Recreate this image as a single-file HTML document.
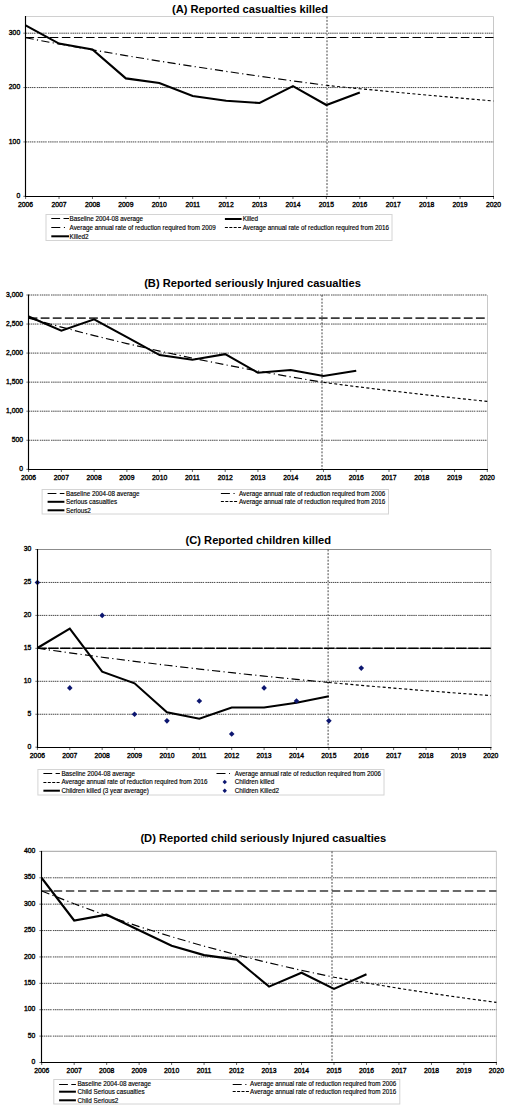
<!DOCTYPE html>
<html><head><meta charset="utf-8"><style>
html,body{margin:0;padding:0;background:#fff;}
body{width:509px;height:1110px;overflow:hidden;}
svg{display:block;font-family:"Liberation Sans", sans-serif;}
</style></head><body>
<svg width="509" height="1110" viewBox="0 0 509 1110">
<text x="250" y="13.4" font-size="11.15" font-weight="bold" text-anchor="middle" fill="#000">(A) Reported casualties killed</text>
<line x1="493.5" y1="16.5" x2="493.5" y2="196.3" stroke="#c8c8c8" stroke-width="1" stroke-linecap="butt"/>
<line x1="25.6" y1="141.93" x2="493.5" y2="141.93" stroke="#4a4a4a" stroke-width="1.0" stroke-dasharray="1.5,0.6,1.5,0.6,1.5,0.6,1.5,0.6,1.5,1.3" stroke-linecap="butt"/>
<line x1="25.6" y1="87.56" x2="493.5" y2="87.56" stroke="#4a4a4a" stroke-width="1.0" stroke-dasharray="1.5,0.6,1.5,0.6,1.5,0.6,1.5,0.6,1.5,1.3" stroke-linecap="butt"/>
<line x1="25.6" y1="33.19" x2="493.5" y2="33.19" stroke="#4a4a4a" stroke-width="1.0" stroke-dasharray="1.5,0.6,1.5,0.6,1.5,0.6,1.5,0.6,1.5,1.3" stroke-linecap="butt"/>
<line x1="25.6" y1="16.5" x2="493.5" y2="16.5" stroke="#d0d0d0" stroke-width="1" stroke-linecap="butt"/>
<text x="20.2" y="197.9" font-size="6.8" font-weight="normal" text-anchor="end" fill="#000" stroke="#000" stroke-width="0.35">0</text>
<line x1="23.3" y1="196.3" x2="25.5" y2="196.3" stroke="#777" stroke-width="1" stroke-linecap="butt"/>
<text x="20.2" y="143.53" font-size="6.8" font-weight="normal" text-anchor="end" fill="#000" stroke="#000" stroke-width="0.35">100</text>
<line x1="23.3" y1="141.93" x2="25.5" y2="141.93" stroke="#777" stroke-width="1" stroke-linecap="butt"/>
<text x="20.2" y="89.16" font-size="6.8" font-weight="normal" text-anchor="end" fill="#000" stroke="#000" stroke-width="0.35">200</text>
<line x1="23.3" y1="87.56" x2="25.5" y2="87.56" stroke="#777" stroke-width="1" stroke-linecap="butt"/>
<text x="20.2" y="34.79" font-size="6.8" font-weight="normal" text-anchor="end" fill="#000" stroke="#000" stroke-width="0.35">300</text>
<line x1="23.3" y1="33.19" x2="25.5" y2="33.19" stroke="#777" stroke-width="1" stroke-linecap="butt"/>
<text x="25.6" y="206.9" font-size="6.8" font-weight="normal" text-anchor="middle" fill="#000" stroke="#000" stroke-width="0.35">2006</text>
<line x1="25.6" y1="196.5" x2="25.6" y2="199" stroke="#666" stroke-width="1" stroke-linecap="butt"/>
<text x="59.02" y="206.9" font-size="6.8" font-weight="normal" text-anchor="middle" fill="#000" stroke="#000" stroke-width="0.35">2007</text>
<line x1="59.02" y1="196.5" x2="59.02" y2="199" stroke="#666" stroke-width="1" stroke-linecap="butt"/>
<text x="92.44" y="206.9" font-size="6.8" font-weight="normal" text-anchor="middle" fill="#000" stroke="#000" stroke-width="0.35">2008</text>
<line x1="92.44" y1="196.5" x2="92.44" y2="199" stroke="#666" stroke-width="1" stroke-linecap="butt"/>
<text x="125.86" y="206.9" font-size="6.8" font-weight="normal" text-anchor="middle" fill="#000" stroke="#000" stroke-width="0.35">2009</text>
<line x1="125.86" y1="196.5" x2="125.86" y2="199" stroke="#666" stroke-width="1" stroke-linecap="butt"/>
<text x="159.29" y="206.9" font-size="6.8" font-weight="normal" text-anchor="middle" fill="#000" stroke="#000" stroke-width="0.35">2010</text>
<line x1="159.29" y1="196.5" x2="159.29" y2="199" stroke="#666" stroke-width="1" stroke-linecap="butt"/>
<text x="192.71" y="206.9" font-size="6.8" font-weight="normal" text-anchor="middle" fill="#000" stroke="#000" stroke-width="0.35">2011</text>
<line x1="192.71" y1="196.5" x2="192.71" y2="199" stroke="#666" stroke-width="1" stroke-linecap="butt"/>
<text x="226.13" y="206.9" font-size="6.8" font-weight="normal" text-anchor="middle" fill="#000" stroke="#000" stroke-width="0.35">2012</text>
<line x1="226.13" y1="196.5" x2="226.13" y2="199" stroke="#666" stroke-width="1" stroke-linecap="butt"/>
<text x="259.55" y="206.9" font-size="6.8" font-weight="normal" text-anchor="middle" fill="#000" stroke="#000" stroke-width="0.35">2013</text>
<line x1="259.55" y1="196.5" x2="259.55" y2="199" stroke="#666" stroke-width="1" stroke-linecap="butt"/>
<text x="292.97" y="206.9" font-size="6.8" font-weight="normal" text-anchor="middle" fill="#000" stroke="#000" stroke-width="0.35">2014</text>
<line x1="292.97" y1="196.5" x2="292.97" y2="199" stroke="#666" stroke-width="1" stroke-linecap="butt"/>
<text x="326.39" y="206.9" font-size="6.8" font-weight="normal" text-anchor="middle" fill="#000" stroke="#000" stroke-width="0.35">2015</text>
<line x1="326.39" y1="196.5" x2="326.39" y2="199" stroke="#666" stroke-width="1" stroke-linecap="butt"/>
<text x="359.81" y="206.9" font-size="6.8" font-weight="normal" text-anchor="middle" fill="#000" stroke="#000" stroke-width="0.35">2016</text>
<line x1="359.81" y1="196.5" x2="359.81" y2="199" stroke="#666" stroke-width="1" stroke-linecap="butt"/>
<text x="393.24" y="206.9" font-size="6.8" font-weight="normal" text-anchor="middle" fill="#000" stroke="#000" stroke-width="0.35">2017</text>
<line x1="393.24" y1="196.5" x2="393.24" y2="199" stroke="#666" stroke-width="1" stroke-linecap="butt"/>
<text x="426.66" y="206.9" font-size="6.8" font-weight="normal" text-anchor="middle" fill="#000" stroke="#000" stroke-width="0.35">2018</text>
<line x1="426.66" y1="196.5" x2="426.66" y2="199" stroke="#666" stroke-width="1" stroke-linecap="butt"/>
<text x="460.08" y="206.9" font-size="6.8" font-weight="normal" text-anchor="middle" fill="#000" stroke="#000" stroke-width="0.35">2019</text>
<line x1="460.08" y1="196.5" x2="460.08" y2="199" stroke="#666" stroke-width="1" stroke-linecap="butt"/>
<text x="493.5" y="206.9" font-size="6.8" font-weight="normal" text-anchor="middle" fill="#000" stroke="#000" stroke-width="0.35">2020</text>
<line x1="493.5" y1="196.5" x2="493.5" y2="199" stroke="#666" stroke-width="1" stroke-linecap="butt"/>
<line x1="327" y1="16.5" x2="327" y2="196.3" stroke="#3a3a3a" stroke-width="0.95" stroke-dasharray="1.9,1.5" stroke-linecap="butt"/>
<line x1="25.6" y1="37.5" x2="493.5" y2="37.5" stroke="#000" stroke-width="1.1" stroke-dasharray="8.5,3.59" stroke-linecap="butt" stroke-dashoffset="0"/>
<polyline points="25.6,37.8 59.02,43.97 92.44,49.89 125.86,55.59 159.29,61.06 192.71,66.32 226.13,71.38 259.55,76.24 292.97,80.91 326.39,85.4" fill="none" stroke="#000" stroke-width="1.15" stroke-dasharray="8.2,3.3,1.2,3.3" stroke-linejoin="miter" stroke-miterlimit="4"/>
<polyline points="326.39,85.4 359.81,88.71 393.24,91.93 426.66,95.04 460.08,98.07 493.5,101" fill="none" stroke="#000" stroke-width="1.15" stroke-dasharray="3,2.4" stroke-linejoin="miter" stroke-miterlimit="4"/>
<polyline points="25.6,25.3 59.02,43.6 92.44,49.5 125.86,78.4 159.29,83 192.71,96 226.13,100.7 259.55,103 292.97,86.1 326.39,105 359.81,92.6" fill="none" stroke="#000" stroke-width="2.1" stroke-linejoin="miter" stroke-miterlimit="4"/>
<line x1="25.5" y1="16" x2="25.5" y2="197.1" stroke="#000" stroke-width="1.15" stroke-linecap="butt"/>
<line x1="24.9" y1="196.5" x2="494" y2="196.5" stroke="#000" stroke-width="1.15" stroke-linecap="butt"/>
<rect x="46" y="214.5" width="346" height="26" fill="none" stroke="#d4d4d4" stroke-width="1"/>
<line x1="51.3" y1="218.5" x2="69" y2="218.5" stroke="#000" stroke-width="1.15" stroke-dasharray="8.8,3.4,30" stroke-linecap="butt"/>
<text x="69.6" y="221.2" font-size="6.3" font-weight="normal" text-anchor="start" fill="#000" stroke="#000" stroke-width="0.14">Baseline 2004-08 average</text>
<line x1="224.9" y1="219" x2="241.6" y2="219" stroke="#000" stroke-width="2.0" stroke-linecap="butt"/>
<text x="242.7" y="221.2" font-size="6.3" font-weight="normal" text-anchor="start" fill="#000" stroke="#000" stroke-width="0.14">Killed</text>
<line x1="51.3" y1="227.5" x2="69" y2="227.5" stroke="#000" stroke-width="1.15" stroke-dasharray="9,3.6,1.1,30" stroke-linecap="butt"/>
<text x="69.6" y="230" font-size="6.3" font-weight="normal" text-anchor="start" fill="#000" stroke="#000" stroke-width="0.14">Average annual rate of reduction required from 2009</text>
<line x1="224.9" y1="227.5" x2="241.6" y2="227.5" stroke="#000" stroke-width="1.15" stroke-dasharray="3,1.4" stroke-linecap="butt"/>
<text x="242.7" y="230" font-size="6.3" font-weight="normal" text-anchor="start" fill="#000" stroke="#000" stroke-width="0.14">Average annual rate of reduction required from 2016</text>
<line x1="51.3" y1="236.3" x2="69" y2="236.3" stroke="#000" stroke-width="2.0" stroke-linecap="butt"/>
<text x="69.6" y="238.5" font-size="6.3" font-weight="normal" text-anchor="start" fill="#000" stroke="#000" stroke-width="0.14">Killed2</text>
<text x="252.5" y="287.1" font-size="11.15" font-weight="bold" text-anchor="middle" fill="#000">(B) Reported seriously Injured casualties</text>
<line x1="487.5" y1="295" x2="487.5" y2="469.3" stroke="#c8c8c8" stroke-width="1" stroke-linecap="butt"/>
<line x1="28.6" y1="440.25" x2="487.5" y2="440.25" stroke="#4a4a4a" stroke-width="1.0" stroke-dasharray="1.5,0.6,1.5,0.6,1.5,0.6,1.5,0.6,1.5,1.3" stroke-linecap="butt"/>
<line x1="28.6" y1="411.2" x2="487.5" y2="411.2" stroke="#4a4a4a" stroke-width="1.0" stroke-dasharray="1.5,0.6,1.5,0.6,1.5,0.6,1.5,0.6,1.5,1.3" stroke-linecap="butt"/>
<line x1="28.6" y1="382.15" x2="487.5" y2="382.15" stroke="#4a4a4a" stroke-width="1.0" stroke-dasharray="1.5,0.6,1.5,0.6,1.5,0.6,1.5,0.6,1.5,1.3" stroke-linecap="butt"/>
<line x1="28.6" y1="353.1" x2="487.5" y2="353.1" stroke="#4a4a4a" stroke-width="1.0" stroke-dasharray="1.5,0.6,1.5,0.6,1.5,0.6,1.5,0.6,1.5,1.3" stroke-linecap="butt"/>
<line x1="28.6" y1="324.05" x2="487.5" y2="324.05" stroke="#4a4a4a" stroke-width="1.0" stroke-dasharray="1.5,0.6,1.5,0.6,1.5,0.6,1.5,0.6,1.5,1.3" stroke-linecap="butt"/>
<line x1="28.6" y1="295" x2="487.5" y2="295" stroke="#4a4a4a" stroke-width="1.0" stroke-dasharray="1.5,0.6,1.5,0.6,1.5,0.6,1.5,0.6,1.5,1.3" stroke-linecap="butt"/>
<text x="23" y="470.9" font-size="6.8" font-weight="normal" text-anchor="end" fill="#000" stroke="#000" stroke-width="0.35">0</text>
<line x1="26.3" y1="469.3" x2="28.5" y2="469.3" stroke="#777" stroke-width="1" stroke-linecap="butt"/>
<text x="23" y="441.85" font-size="6.8" font-weight="normal" text-anchor="end" fill="#000" stroke="#000" stroke-width="0.35">500</text>
<line x1="26.3" y1="440.25" x2="28.5" y2="440.25" stroke="#777" stroke-width="1" stroke-linecap="butt"/>
<text x="23" y="412.8" font-size="6.8" font-weight="normal" text-anchor="end" fill="#000" stroke="#000" stroke-width="0.35">1,000</text>
<line x1="26.3" y1="411.2" x2="28.5" y2="411.2" stroke="#777" stroke-width="1" stroke-linecap="butt"/>
<text x="23" y="383.75" font-size="6.8" font-weight="normal" text-anchor="end" fill="#000" stroke="#000" stroke-width="0.35">1,500</text>
<line x1="26.3" y1="382.15" x2="28.5" y2="382.15" stroke="#777" stroke-width="1" stroke-linecap="butt"/>
<text x="23" y="354.7" font-size="6.8" font-weight="normal" text-anchor="end" fill="#000" stroke="#000" stroke-width="0.35">2,000</text>
<line x1="26.3" y1="353.1" x2="28.5" y2="353.1" stroke="#777" stroke-width="1" stroke-linecap="butt"/>
<text x="23" y="325.65" font-size="6.8" font-weight="normal" text-anchor="end" fill="#000" stroke="#000" stroke-width="0.35">2,500</text>
<line x1="26.3" y1="324.05" x2="28.5" y2="324.05" stroke="#777" stroke-width="1" stroke-linecap="butt"/>
<text x="23" y="296.6" font-size="6.8" font-weight="normal" text-anchor="end" fill="#000" stroke="#000" stroke-width="0.35">3,000</text>
<line x1="26.3" y1="295" x2="28.5" y2="295" stroke="#777" stroke-width="1" stroke-linecap="butt"/>
<text x="28.6" y="479.8" font-size="6.8" font-weight="normal" text-anchor="middle" fill="#000" stroke="#000" stroke-width="0.35">2006</text>
<line x1="28.6" y1="469.5" x2="28.6" y2="472" stroke="#666" stroke-width="1" stroke-linecap="butt"/>
<text x="61.36" y="479.8" font-size="6.8" font-weight="normal" text-anchor="middle" fill="#000" stroke="#000" stroke-width="0.35">2007</text>
<line x1="61.36" y1="469.5" x2="61.36" y2="472" stroke="#666" stroke-width="1" stroke-linecap="butt"/>
<text x="94.13" y="479.8" font-size="6.8" font-weight="normal" text-anchor="middle" fill="#000" stroke="#000" stroke-width="0.35">2008</text>
<line x1="94.13" y1="469.5" x2="94.13" y2="472" stroke="#666" stroke-width="1" stroke-linecap="butt"/>
<text x="126.89" y="479.8" font-size="6.8" font-weight="normal" text-anchor="middle" fill="#000" stroke="#000" stroke-width="0.35">2009</text>
<line x1="126.89" y1="469.5" x2="126.89" y2="472" stroke="#666" stroke-width="1" stroke-linecap="butt"/>
<text x="159.66" y="479.8" font-size="6.8" font-weight="normal" text-anchor="middle" fill="#000" stroke="#000" stroke-width="0.35">2010</text>
<line x1="159.66" y1="469.5" x2="159.66" y2="472" stroke="#666" stroke-width="1" stroke-linecap="butt"/>
<text x="192.42" y="479.8" font-size="6.8" font-weight="normal" text-anchor="middle" fill="#000" stroke="#000" stroke-width="0.35">2011</text>
<line x1="192.42" y1="469.5" x2="192.42" y2="472" stroke="#666" stroke-width="1" stroke-linecap="butt"/>
<text x="225.19" y="479.8" font-size="6.8" font-weight="normal" text-anchor="middle" fill="#000" stroke="#000" stroke-width="0.35">2012</text>
<line x1="225.19" y1="469.5" x2="225.19" y2="472" stroke="#666" stroke-width="1" stroke-linecap="butt"/>
<text x="257.95" y="479.8" font-size="6.8" font-weight="normal" text-anchor="middle" fill="#000" stroke="#000" stroke-width="0.35">2013</text>
<line x1="257.95" y1="469.5" x2="257.95" y2="472" stroke="#666" stroke-width="1" stroke-linecap="butt"/>
<text x="290.71" y="479.8" font-size="6.8" font-weight="normal" text-anchor="middle" fill="#000" stroke="#000" stroke-width="0.35">2014</text>
<line x1="290.71" y1="469.5" x2="290.71" y2="472" stroke="#666" stroke-width="1" stroke-linecap="butt"/>
<text x="323.48" y="479.8" font-size="6.8" font-weight="normal" text-anchor="middle" fill="#000" stroke="#000" stroke-width="0.35">2015</text>
<line x1="323.48" y1="469.5" x2="323.48" y2="472" stroke="#666" stroke-width="1" stroke-linecap="butt"/>
<text x="356.24" y="479.8" font-size="6.8" font-weight="normal" text-anchor="middle" fill="#000" stroke="#000" stroke-width="0.35">2016</text>
<line x1="356.24" y1="469.5" x2="356.24" y2="472" stroke="#666" stroke-width="1" stroke-linecap="butt"/>
<text x="389.01" y="479.8" font-size="6.8" font-weight="normal" text-anchor="middle" fill="#000" stroke="#000" stroke-width="0.35">2017</text>
<line x1="389.01" y1="469.5" x2="389.01" y2="472" stroke="#666" stroke-width="1" stroke-linecap="butt"/>
<text x="421.77" y="479.8" font-size="6.8" font-weight="normal" text-anchor="middle" fill="#000" stroke="#000" stroke-width="0.35">2018</text>
<line x1="421.77" y1="469.5" x2="421.77" y2="472" stroke="#666" stroke-width="1" stroke-linecap="butt"/>
<text x="454.54" y="479.8" font-size="6.8" font-weight="normal" text-anchor="middle" fill="#000" stroke="#000" stroke-width="0.35">2019</text>
<line x1="454.54" y1="469.5" x2="454.54" y2="472" stroke="#666" stroke-width="1" stroke-linecap="butt"/>
<text x="487.3" y="479.8" font-size="6.8" font-weight="normal" text-anchor="middle" fill="#000" stroke="#000" stroke-width="0.35">2020</text>
<line x1="487.3" y1="469.5" x2="487.3" y2="472" stroke="#666" stroke-width="1" stroke-linecap="butt"/>
<line x1="322" y1="295" x2="322" y2="469.3" stroke="#3a3a3a" stroke-width="0.95" stroke-dasharray="1.9,1.5" stroke-linecap="butt"/>
<line x1="28.6" y1="318.1" x2="487.5" y2="318.1" stroke="#3a3a3a" stroke-width="1.6" stroke-dasharray="8.8,3.29" stroke-linecap="butt" stroke-dashoffset="0"/>
<polyline points="28.6,318.1 61.36,327.12 94.13,335.61 126.89,343.59 159.66,351.09 192.42,358.15 225.19,364.78 257.95,371.02 290.71,376.88 323.48,382.4" fill="none" stroke="#000" stroke-width="1.15" stroke-dasharray="8.2,3.3,1.2,3.3" stroke-linejoin="miter" stroke-miterlimit="4"/>
<polyline points="323.48,382.4 356.24,386.58 389.01,390.57 421.77,394.36 454.54,397.97 487.3,401.4" fill="none" stroke="#000" stroke-width="1.15" stroke-dasharray="3,2.4" stroke-linejoin="miter" stroke-miterlimit="4"/>
<polyline points="28.6,316.5 61.36,330.7 94.13,319.3 126.89,337.2 159.66,355.1 192.42,359.8 225.19,354.2 257.95,372.7 290.71,370 323.48,376 356.24,370.7" fill="none" stroke="#000" stroke-width="2.1" stroke-linejoin="miter" stroke-miterlimit="4"/>
<line x1="28.5" y1="294.5" x2="28.5" y2="470.1" stroke="#000" stroke-width="1.15" stroke-linecap="butt"/>
<line x1="27.9" y1="469.5" x2="488" y2="469.5" stroke="#000" stroke-width="1.15" stroke-linecap="butt"/>
<rect x="42.1" y="489.5" width="346.4" height="24.5" fill="none" stroke="#d4d4d4" stroke-width="1"/>
<line x1="47.6" y1="493.5" x2="64.4" y2="493.5" stroke="#000" stroke-width="1.15" stroke-dasharray="8.8,3.4,30" stroke-linecap="butt"/>
<text x="66" y="495.8" font-size="6.3" font-weight="normal" text-anchor="start" fill="#000" stroke="#000" stroke-width="0.14">Baseline 2004-08 average</text>
<line x1="220.9" y1="493.5" x2="237.4" y2="493.5" stroke="#000" stroke-width="1.15" stroke-dasharray="9,3.6,1.1,30" stroke-linecap="butt"/>
<text x="239" y="495.8" font-size="6.3" font-weight="normal" text-anchor="start" fill="#000" stroke="#000" stroke-width="0.14">Average annual rate of reduction required from 2006</text>
<line x1="47.6" y1="501.8" x2="64.4" y2="501.8" stroke="#000" stroke-width="2.0" stroke-linecap="butt"/>
<text x="66" y="504" font-size="6.3" font-weight="normal" text-anchor="start" fill="#000" stroke="#000" stroke-width="0.14">Serious casualties</text>
<line x1="220.9" y1="501.5" x2="237.4" y2="501.5" stroke="#000" stroke-width="1.15" stroke-dasharray="3,1.4" stroke-linecap="butt"/>
<text x="239" y="504" font-size="6.3" font-weight="normal" text-anchor="start" fill="#000" stroke="#000" stroke-width="0.14">Average annual rate of reduction required from 2016</text>
<line x1="47.6" y1="510.3" x2="64.4" y2="510.3" stroke="#000" stroke-width="2.0" stroke-linecap="butt"/>
<text x="66" y="512.5" font-size="6.3" font-weight="normal" text-anchor="start" fill="#000" stroke="#000" stroke-width="0.14">Serious2</text>
<text x="258.3" y="543.8" font-size="11.15" font-weight="bold" text-anchor="middle" fill="#000">(C) Reported children killed</text>
<line x1="491" y1="549.5" x2="491" y2="747.2" stroke="#dedede" stroke-width="1.5" stroke-linecap="butt"/>
<line x1="37.4" y1="714.25" x2="491" y2="714.25" stroke="#4a4a4a" stroke-width="1.0" stroke-dasharray="1.5,0.6,1.5,0.6,1.5,0.6,1.5,0.6,1.5,1.3" stroke-linecap="butt"/>
<line x1="37.4" y1="681.3" x2="491" y2="681.3" stroke="#4a4a4a" stroke-width="1.0" stroke-dasharray="1.5,0.6,1.5,0.6,1.5,0.6,1.5,0.6,1.5,1.3" stroke-linecap="butt"/>
<line x1="37.4" y1="648.35" x2="491" y2="648.35" stroke="#4a4a4a" stroke-width="1.0" stroke-dasharray="1.5,0.6,1.5,0.6,1.5,0.6,1.5,0.6,1.5,1.3" stroke-linecap="butt"/>
<line x1="37.4" y1="615.4" x2="491" y2="615.4" stroke="#4a4a4a" stroke-width="1.0" stroke-dasharray="1.5,0.6,1.5,0.6,1.5,0.6,1.5,0.6,1.5,1.3" stroke-linecap="butt"/>
<line x1="37.4" y1="582.45" x2="491" y2="582.45" stroke="#4a4a4a" stroke-width="1.0" stroke-dasharray="1.5,0.6,1.5,0.6,1.5,0.6,1.5,0.6,1.5,1.3" stroke-linecap="butt"/>
<line x1="37.4" y1="549.5" x2="491" y2="549.5" stroke="#8c8c8c" stroke-width="1" stroke-linecap="butt"/>
<text x="31.4" y="748.8" font-size="6.8" font-weight="normal" text-anchor="end" fill="#000" stroke="#000" stroke-width="0.35">0</text>
<line x1="35.3" y1="747.2" x2="37.5" y2="747.2" stroke="#777" stroke-width="1" stroke-linecap="butt"/>
<text x="31.4" y="715.85" font-size="6.8" font-weight="normal" text-anchor="end" fill="#000" stroke="#000" stroke-width="0.35">5</text>
<line x1="35.3" y1="714.25" x2="37.5" y2="714.25" stroke="#777" stroke-width="1" stroke-linecap="butt"/>
<text x="31.4" y="682.9" font-size="6.8" font-weight="normal" text-anchor="end" fill="#000" stroke="#000" stroke-width="0.35">10</text>
<line x1="35.3" y1="681.3" x2="37.5" y2="681.3" stroke="#777" stroke-width="1" stroke-linecap="butt"/>
<text x="31.4" y="649.95" font-size="6.8" font-weight="normal" text-anchor="end" fill="#000" stroke="#000" stroke-width="0.35">15</text>
<line x1="35.3" y1="648.35" x2="37.5" y2="648.35" stroke="#777" stroke-width="1" stroke-linecap="butt"/>
<text x="31.4" y="617" font-size="6.8" font-weight="normal" text-anchor="end" fill="#000" stroke="#000" stroke-width="0.35">20</text>
<line x1="35.3" y1="615.4" x2="37.5" y2="615.4" stroke="#777" stroke-width="1" stroke-linecap="butt"/>
<text x="31.4" y="584.05" font-size="6.8" font-weight="normal" text-anchor="end" fill="#000" stroke="#000" stroke-width="0.35">25</text>
<line x1="35.3" y1="582.45" x2="37.5" y2="582.45" stroke="#777" stroke-width="1" stroke-linecap="butt"/>
<text x="31.4" y="551.1" font-size="6.8" font-weight="normal" text-anchor="end" fill="#000" stroke="#000" stroke-width="0.35">30</text>
<line x1="35.3" y1="549.5" x2="37.5" y2="549.5" stroke="#777" stroke-width="1" stroke-linecap="butt"/>
<text x="37.4" y="757.8" font-size="6.8" font-weight="normal" text-anchor="middle" fill="#000" stroke="#000" stroke-width="0.35">2006</text>
<line x1="37.4" y1="747.5" x2="37.4" y2="750" stroke="#666" stroke-width="1" stroke-linecap="butt"/>
<text x="69.79" y="757.8" font-size="6.8" font-weight="normal" text-anchor="middle" fill="#000" stroke="#000" stroke-width="0.35">2007</text>
<line x1="69.79" y1="747.5" x2="69.79" y2="750" stroke="#666" stroke-width="1" stroke-linecap="butt"/>
<text x="102.17" y="757.8" font-size="6.8" font-weight="normal" text-anchor="middle" fill="#000" stroke="#000" stroke-width="0.35">2008</text>
<line x1="102.17" y1="747.5" x2="102.17" y2="750" stroke="#666" stroke-width="1" stroke-linecap="butt"/>
<text x="134.56" y="757.8" font-size="6.8" font-weight="normal" text-anchor="middle" fill="#000" stroke="#000" stroke-width="0.35">2009</text>
<line x1="134.56" y1="747.5" x2="134.56" y2="750" stroke="#666" stroke-width="1" stroke-linecap="butt"/>
<text x="166.94" y="757.8" font-size="6.8" font-weight="normal" text-anchor="middle" fill="#000" stroke="#000" stroke-width="0.35">2010</text>
<line x1="166.94" y1="747.5" x2="166.94" y2="750" stroke="#666" stroke-width="1" stroke-linecap="butt"/>
<text x="199.33" y="757.8" font-size="6.8" font-weight="normal" text-anchor="middle" fill="#000" stroke="#000" stroke-width="0.35">2011</text>
<line x1="199.33" y1="747.5" x2="199.33" y2="750" stroke="#666" stroke-width="1" stroke-linecap="butt"/>
<text x="231.71" y="757.8" font-size="6.8" font-weight="normal" text-anchor="middle" fill="#000" stroke="#000" stroke-width="0.35">2012</text>
<line x1="231.71" y1="747.5" x2="231.71" y2="750" stroke="#666" stroke-width="1" stroke-linecap="butt"/>
<text x="264.1" y="757.8" font-size="6.8" font-weight="normal" text-anchor="middle" fill="#000" stroke="#000" stroke-width="0.35">2013</text>
<line x1="264.1" y1="747.5" x2="264.1" y2="750" stroke="#666" stroke-width="1" stroke-linecap="butt"/>
<text x="296.49" y="757.8" font-size="6.8" font-weight="normal" text-anchor="middle" fill="#000" stroke="#000" stroke-width="0.35">2014</text>
<line x1="296.49" y1="747.5" x2="296.49" y2="750" stroke="#666" stroke-width="1" stroke-linecap="butt"/>
<text x="328.87" y="757.8" font-size="6.8" font-weight="normal" text-anchor="middle" fill="#000" stroke="#000" stroke-width="0.35">2015</text>
<line x1="328.87" y1="747.5" x2="328.87" y2="750" stroke="#666" stroke-width="1" stroke-linecap="butt"/>
<text x="361.26" y="757.8" font-size="6.8" font-weight="normal" text-anchor="middle" fill="#000" stroke="#000" stroke-width="0.35">2016</text>
<line x1="361.26" y1="747.5" x2="361.26" y2="750" stroke="#666" stroke-width="1" stroke-linecap="butt"/>
<text x="393.64" y="757.8" font-size="6.8" font-weight="normal" text-anchor="middle" fill="#000" stroke="#000" stroke-width="0.35">2017</text>
<line x1="393.64" y1="747.5" x2="393.64" y2="750" stroke="#666" stroke-width="1" stroke-linecap="butt"/>
<text x="426.03" y="757.8" font-size="6.8" font-weight="normal" text-anchor="middle" fill="#000" stroke="#000" stroke-width="0.35">2018</text>
<line x1="426.03" y1="747.5" x2="426.03" y2="750" stroke="#666" stroke-width="1" stroke-linecap="butt"/>
<text x="458.41" y="757.8" font-size="6.8" font-weight="normal" text-anchor="middle" fill="#000" stroke="#000" stroke-width="0.35">2019</text>
<line x1="458.41" y1="747.5" x2="458.41" y2="750" stroke="#666" stroke-width="1" stroke-linecap="butt"/>
<text x="490.8" y="757.8" font-size="6.8" font-weight="normal" text-anchor="middle" fill="#000" stroke="#000" stroke-width="0.35">2020</text>
<line x1="490.8" y1="747.5" x2="490.8" y2="750" stroke="#666" stroke-width="1" stroke-linecap="butt"/>
<line x1="328.1" y1="549.5" x2="328.1" y2="747.2" stroke="#3a3a3a" stroke-width="0.95" stroke-dasharray="1.9,1.5" stroke-linecap="butt"/>
<line x1="37.4" y1="648.3" x2="491" y2="648.3" stroke="#000" stroke-width="1.5" stroke-dasharray="10.4,1.6" stroke-linecap="butt" stroke-dashoffset="1.2"/>
<polyline points="37.4,648.3 69.79,652.85 102.17,657.2 134.56,661.34 166.94,665.3 199.33,669.07 231.71,672.67 264.1,676.1 296.49,679.38 328.87,682.5" fill="none" stroke="#000" stroke-width="1.15" stroke-dasharray="8.2,3.3,1.2,3.3" stroke-linejoin="miter" stroke-miterlimit="4"/>
<polyline points="328.87,682.5 361.26,685.36 393.64,688.1 426.03,690.71 458.41,693.21 490.8,695.6" fill="none" stroke="#000" stroke-width="1.15" stroke-dasharray="3,2.4" stroke-linejoin="miter" stroke-miterlimit="4"/>
<polyline points="37.4,648 69.79,628.6 102.17,671.7 134.56,683.3 166.94,712.2 199.33,718.7 231.71,707.5 264.1,707.5 296.49,702.8 328.87,696.3" fill="none" stroke="#000" stroke-width="2.1" stroke-linejoin="miter" stroke-miterlimit="4"/>
<path d="M37.4 579.65L40.2 582.45L37.4 585.25L34.6 582.45Z" fill="#0c1670"/>
<path d="M69.79 685.09L72.59 687.89L69.79 690.69L66.99 687.89Z" fill="#0c1670"/>
<path d="M102.17 612.6L104.97 615.4L102.17 618.2L99.37 615.4Z" fill="#0c1670"/>
<path d="M134.56 711.45L137.36 714.25L134.56 717.05L131.76 714.25Z" fill="#0c1670"/>
<path d="M166.94 718.04L169.74 720.84L166.94 723.64L164.14 720.84Z" fill="#0c1670"/>
<path d="M199.33 698.27L202.13 701.07L199.33 703.87L196.53 701.07Z" fill="#0c1670"/>
<path d="M231.71 731.22L234.51 734.02L231.71 736.82L228.91 734.02Z" fill="#0c1670"/>
<path d="M264.1 685.09L266.9 687.89L264.1 690.69L261.3 687.89Z" fill="#0c1670"/>
<path d="M296.49 698.27L299.29 701.07L296.49 703.87L293.69 701.07Z" fill="#0c1670"/>
<path d="M328.87 718.04L331.67 720.84L328.87 723.64L326.07 720.84Z" fill="#0c1670"/>
<path d="M361.26 665.32L364.06 668.12L361.26 670.92L358.46 668.12Z" fill="#0c1670"/>
<line x1="37.5" y1="549" x2="37.5" y2="748.1" stroke="#000" stroke-width="1.15" stroke-linecap="butt"/>
<line x1="36.9" y1="747.5" x2="491.5" y2="747.5" stroke="#000" stroke-width="1.15" stroke-linecap="butt"/>
<rect x="37.9" y="769.5" width="346.1" height="25.5" fill="none" stroke="#d4d4d4" stroke-width="1"/>
<line x1="43.4" y1="773.5" x2="59.9" y2="773.5" stroke="#000" stroke-width="1.15" stroke-dasharray="8.8,3.4,30" stroke-linecap="butt"/>
<text x="61.4" y="775.9" font-size="6.3" font-weight="normal" text-anchor="start" fill="#000" stroke="#000" stroke-width="0.14">Baseline 2004-08 average</text>
<line x1="216.5" y1="773.5" x2="230" y2="773.5" stroke="#000" stroke-width="1.15" stroke-dasharray="9,3.6,1.1,30" stroke-linecap="butt"/>
<text x="234.8" y="775.9" font-size="6.3" font-weight="normal" text-anchor="start" fill="#000" stroke="#000" stroke-width="0.14">Average annual rate of reduction required from 2006</text>
<line x1="43.4" y1="782.5" x2="59.9" y2="782.5" stroke="#000" stroke-width="1.15" stroke-dasharray="3,1.4" stroke-linecap="butt"/>
<text x="61.4" y="784.2" font-size="6.3" font-weight="normal" text-anchor="start" fill="#000" stroke="#000" stroke-width="0.14">Average annual rate of reduction required from 2016</text>
<path d="M224.75 779.8L226.95 782L224.75 784.2L222.55 782Z" fill="#0c1670"/>
<text x="234.8" y="784.2" font-size="6.3" font-weight="normal" text-anchor="start" fill="#000" stroke="#000" stroke-width="0.14">Children killed</text>
<line x1="43.4" y1="790.7" x2="59.9" y2="790.7" stroke="#000" stroke-width="2.0" stroke-linecap="butt"/>
<text x="61.4" y="792.9" font-size="6.3" font-weight="normal" text-anchor="start" fill="#000" stroke="#000" stroke-width="0.14">Children killed (3 year average)</text>
<path d="M224.75 788.5L226.95 790.7L224.75 792.9L222.55 790.7Z" fill="#0c1670"/>
<text x="234.8" y="792.9" font-size="6.3" font-weight="normal" text-anchor="start" fill="#000" stroke="#000" stroke-width="0.14">Children Killed2</text>
<text x="263.3" y="842.3" font-size="11.15" font-weight="bold" text-anchor="middle" fill="#000">(D) Reported child seriously Injured casualties</text>
<line x1="496.4" y1="851.4" x2="496.4" y2="1062.5" stroke="#c8c8c8" stroke-width="1" stroke-linecap="butt"/>
<line x1="41.7" y1="1036.11" x2="496.4" y2="1036.11" stroke="#4a4a4a" stroke-width="1.0" stroke-dasharray="1.5,0.6,1.5,0.6,1.5,0.6,1.5,0.6,1.5,1.3" stroke-linecap="butt"/>
<line x1="41.7" y1="1009.73" x2="496.4" y2="1009.73" stroke="#4a4a4a" stroke-width="1.0" stroke-dasharray="1.5,0.6,1.5,0.6,1.5,0.6,1.5,0.6,1.5,1.3" stroke-linecap="butt"/>
<line x1="41.7" y1="983.34" x2="496.4" y2="983.34" stroke="#4a4a4a" stroke-width="1.0" stroke-dasharray="1.5,0.6,1.5,0.6,1.5,0.6,1.5,0.6,1.5,1.3" stroke-linecap="butt"/>
<line x1="41.7" y1="956.95" x2="496.4" y2="956.95" stroke="#4a4a4a" stroke-width="1.0" stroke-dasharray="1.5,0.6,1.5,0.6,1.5,0.6,1.5,0.6,1.5,1.3" stroke-linecap="butt"/>
<line x1="41.7" y1="930.56" x2="496.4" y2="930.56" stroke="#4a4a4a" stroke-width="1.0" stroke-dasharray="1.5,0.6,1.5,0.6,1.5,0.6,1.5,0.6,1.5,1.3" stroke-linecap="butt"/>
<line x1="41.7" y1="904.17" x2="496.4" y2="904.17" stroke="#4a4a4a" stroke-width="1.0" stroke-dasharray="1.5,0.6,1.5,0.6,1.5,0.6,1.5,0.6,1.5,1.3" stroke-linecap="butt"/>
<line x1="41.7" y1="877.79" x2="496.4" y2="877.79" stroke="#4a4a4a" stroke-width="1.0" stroke-dasharray="1.5,0.6,1.5,0.6,1.5,0.6,1.5,0.6,1.5,1.3" stroke-linecap="butt"/>
<line x1="41.7" y1="851.4" x2="496.4" y2="851.4" stroke="#b4b4b4" stroke-width="1.2" stroke-linecap="butt"/>
<text x="35.4" y="1064.1" font-size="6.8" font-weight="normal" text-anchor="end" fill="#000" stroke="#000" stroke-width="0.35">0</text>
<line x1="39.3" y1="1062.5" x2="41.5" y2="1062.5" stroke="#777" stroke-width="1" stroke-linecap="butt"/>
<text x="35.4" y="1037.71" font-size="6.8" font-weight="normal" text-anchor="end" fill="#000" stroke="#000" stroke-width="0.35">50</text>
<line x1="39.3" y1="1036.11" x2="41.5" y2="1036.11" stroke="#777" stroke-width="1" stroke-linecap="butt"/>
<text x="35.4" y="1011.33" font-size="6.8" font-weight="normal" text-anchor="end" fill="#000" stroke="#000" stroke-width="0.35">100</text>
<line x1="39.3" y1="1009.73" x2="41.5" y2="1009.73" stroke="#777" stroke-width="1" stroke-linecap="butt"/>
<text x="35.4" y="984.94" font-size="6.8" font-weight="normal" text-anchor="end" fill="#000" stroke="#000" stroke-width="0.35">150</text>
<line x1="39.3" y1="983.34" x2="41.5" y2="983.34" stroke="#777" stroke-width="1" stroke-linecap="butt"/>
<text x="35.4" y="958.55" font-size="6.8" font-weight="normal" text-anchor="end" fill="#000" stroke="#000" stroke-width="0.35">200</text>
<line x1="39.3" y1="956.95" x2="41.5" y2="956.95" stroke="#777" stroke-width="1" stroke-linecap="butt"/>
<text x="35.4" y="932.16" font-size="6.8" font-weight="normal" text-anchor="end" fill="#000" stroke="#000" stroke-width="0.35">250</text>
<line x1="39.3" y1="930.56" x2="41.5" y2="930.56" stroke="#777" stroke-width="1" stroke-linecap="butt"/>
<text x="35.4" y="905.77" font-size="6.8" font-weight="normal" text-anchor="end" fill="#000" stroke="#000" stroke-width="0.35">300</text>
<line x1="39.3" y1="904.17" x2="41.5" y2="904.17" stroke="#777" stroke-width="1" stroke-linecap="butt"/>
<text x="35.4" y="879.39" font-size="6.8" font-weight="normal" text-anchor="end" fill="#000" stroke="#000" stroke-width="0.35">350</text>
<line x1="39.3" y1="877.79" x2="41.5" y2="877.79" stroke="#777" stroke-width="1" stroke-linecap="butt"/>
<text x="35.4" y="853" font-size="6.8" font-weight="normal" text-anchor="end" fill="#000" stroke="#000" stroke-width="0.35">400</text>
<line x1="39.3" y1="851.4" x2="41.5" y2="851.4" stroke="#777" stroke-width="1" stroke-linecap="butt"/>
<text x="41.7" y="1073.2" font-size="6.8" font-weight="normal" text-anchor="middle" fill="#000" stroke="#000" stroke-width="0.35">2006</text>
<line x1="41.7" y1="1062.5" x2="41.7" y2="1065" stroke="#666" stroke-width="1" stroke-linecap="butt"/>
<text x="74.18" y="1073.2" font-size="6.8" font-weight="normal" text-anchor="middle" fill="#000" stroke="#000" stroke-width="0.35">2007</text>
<line x1="74.18" y1="1062.5" x2="74.18" y2="1065" stroke="#666" stroke-width="1" stroke-linecap="butt"/>
<text x="106.66" y="1073.2" font-size="6.8" font-weight="normal" text-anchor="middle" fill="#000" stroke="#000" stroke-width="0.35">2008</text>
<line x1="106.66" y1="1062.5" x2="106.66" y2="1065" stroke="#666" stroke-width="1" stroke-linecap="butt"/>
<text x="139.14" y="1073.2" font-size="6.8" font-weight="normal" text-anchor="middle" fill="#000" stroke="#000" stroke-width="0.35">2009</text>
<line x1="139.14" y1="1062.5" x2="139.14" y2="1065" stroke="#666" stroke-width="1" stroke-linecap="butt"/>
<text x="171.61" y="1073.2" font-size="6.8" font-weight="normal" text-anchor="middle" fill="#000" stroke="#000" stroke-width="0.35">2010</text>
<line x1="171.61" y1="1062.5" x2="171.61" y2="1065" stroke="#666" stroke-width="1" stroke-linecap="butt"/>
<text x="204.09" y="1073.2" font-size="6.8" font-weight="normal" text-anchor="middle" fill="#000" stroke="#000" stroke-width="0.35">2011</text>
<line x1="204.09" y1="1062.5" x2="204.09" y2="1065" stroke="#666" stroke-width="1" stroke-linecap="butt"/>
<text x="236.57" y="1073.2" font-size="6.8" font-weight="normal" text-anchor="middle" fill="#000" stroke="#000" stroke-width="0.35">2012</text>
<line x1="236.57" y1="1062.5" x2="236.57" y2="1065" stroke="#666" stroke-width="1" stroke-linecap="butt"/>
<text x="269.05" y="1073.2" font-size="6.8" font-weight="normal" text-anchor="middle" fill="#000" stroke="#000" stroke-width="0.35">2013</text>
<line x1="269.05" y1="1062.5" x2="269.05" y2="1065" stroke="#666" stroke-width="1" stroke-linecap="butt"/>
<text x="301.53" y="1073.2" font-size="6.8" font-weight="normal" text-anchor="middle" fill="#000" stroke="#000" stroke-width="0.35">2014</text>
<line x1="301.53" y1="1062.5" x2="301.53" y2="1065" stroke="#666" stroke-width="1" stroke-linecap="butt"/>
<text x="334.01" y="1073.2" font-size="6.8" font-weight="normal" text-anchor="middle" fill="#000" stroke="#000" stroke-width="0.35">2015</text>
<line x1="334.01" y1="1062.5" x2="334.01" y2="1065" stroke="#666" stroke-width="1" stroke-linecap="butt"/>
<text x="366.49" y="1073.2" font-size="6.8" font-weight="normal" text-anchor="middle" fill="#000" stroke="#000" stroke-width="0.35">2016</text>
<line x1="366.49" y1="1062.5" x2="366.49" y2="1065" stroke="#666" stroke-width="1" stroke-linecap="butt"/>
<text x="398.96" y="1073.2" font-size="6.8" font-weight="normal" text-anchor="middle" fill="#000" stroke="#000" stroke-width="0.35">2017</text>
<line x1="398.96" y1="1062.5" x2="398.96" y2="1065" stroke="#666" stroke-width="1" stroke-linecap="butt"/>
<text x="431.44" y="1073.2" font-size="6.8" font-weight="normal" text-anchor="middle" fill="#000" stroke="#000" stroke-width="0.35">2018</text>
<line x1="431.44" y1="1062.5" x2="431.44" y2="1065" stroke="#666" stroke-width="1" stroke-linecap="butt"/>
<text x="463.92" y="1073.2" font-size="6.8" font-weight="normal" text-anchor="middle" fill="#000" stroke="#000" stroke-width="0.35">2019</text>
<line x1="463.92" y1="1062.5" x2="463.92" y2="1065" stroke="#666" stroke-width="1" stroke-linecap="butt"/>
<text x="496.4" y="1073.2" font-size="6.8" font-weight="normal" text-anchor="middle" fill="#000" stroke="#000" stroke-width="0.35">2020</text>
<line x1="496.4" y1="1062.5" x2="496.4" y2="1065" stroke="#666" stroke-width="1" stroke-linecap="butt"/>
<line x1="332" y1="851.4" x2="332" y2="1062.5" stroke="#3a3a3a" stroke-width="0.95" stroke-dasharray="1.9,1.5" stroke-linecap="butt"/>
<line x1="41.7" y1="891" x2="496.4" y2="891" stroke="#3a3a3a" stroke-width="1.6" stroke-dasharray="8.4,3.69" stroke-linecap="butt" stroke-dashoffset="0"/>
<polyline points="41.7,891 74.18,903.81 106.66,915.65 139.14,926.62 171.61,936.76 204.09,946.15 236.57,954.84 269.05,962.88 301.53,970.32 334.01,977.2" fill="none" stroke="#000" stroke-width="1.15" stroke-dasharray="8.2,3.3,1.2,3.3" stroke-linejoin="miter" stroke-miterlimit="4"/>
<polyline points="334.01,977.2 366.49,982.97 398.96,988.35 431.44,993.36 463.92,998.04 496.4,1002.4" fill="none" stroke="#000" stroke-width="1.15" stroke-dasharray="3,2.4" stroke-linejoin="miter" stroke-miterlimit="4"/>
<polyline points="41.7,878 74.18,920.5 106.66,914.7 139.14,930.2 171.61,945.7 204.09,955.1 236.57,959.6 269.05,986.6 301.53,972.7 334.01,988.9 366.49,974.2" fill="none" stroke="#000" stroke-width="2.1" stroke-linejoin="miter" stroke-miterlimit="4"/>
<line x1="41.5" y1="850.9" x2="41.5" y2="1063.1" stroke="#000" stroke-width="1.15" stroke-linecap="butt"/>
<line x1="40.9" y1="1062.5" x2="496.9" y2="1062.5" stroke="#000" stroke-width="1.15" stroke-linecap="butt"/>
<rect x="53.8" y="1079.5" width="346" height="24.5" fill="none" stroke="#d4d4d4" stroke-width="1"/>
<line x1="59.1" y1="1084.5" x2="75.9" y2="1084.5" stroke="#000" stroke-width="1.15" stroke-dasharray="8.8,3.4,30" stroke-linecap="butt"/>
<text x="77.4" y="1086.2" font-size="6.3" font-weight="normal" text-anchor="start" fill="#000" stroke="#000" stroke-width="0.14">Baseline 2004-08 average</text>
<line x1="232.7" y1="1084.5" x2="249.2" y2="1084.5" stroke="#000" stroke-width="1.15" stroke-dasharray="9,3.6,1.1,30" stroke-linecap="butt"/>
<text x="250.1" y="1086.2" font-size="6.3" font-weight="normal" text-anchor="start" fill="#000" stroke="#000" stroke-width="0.14">Average annual rate of reduction required from 2006</text>
<line x1="59.1" y1="1091.7" x2="75.9" y2="1091.7" stroke="#000" stroke-width="2.0" stroke-linecap="butt"/>
<text x="77.4" y="1093.9" font-size="6.3" font-weight="normal" text-anchor="start" fill="#000" stroke="#000" stroke-width="0.14">Child Serious casualties</text>
<line x1="232.7" y1="1091.5" x2="249.2" y2="1091.5" stroke="#000" stroke-width="1.15" stroke-dasharray="3,1.4" stroke-linecap="butt"/>
<text x="250.1" y="1093.9" font-size="6.3" font-weight="normal" text-anchor="start" fill="#000" stroke="#000" stroke-width="0.14">Average annual rate of reduction required from 2016</text>
<line x1="59.1" y1="1100.3" x2="75.9" y2="1100.3" stroke="#000" stroke-width="2.0" stroke-linecap="butt"/>
<text x="77.4" y="1102.5" font-size="6.3" font-weight="normal" text-anchor="start" fill="#000" stroke="#000" stroke-width="0.14">Child Serious2</text>
</svg>
</body></html>
